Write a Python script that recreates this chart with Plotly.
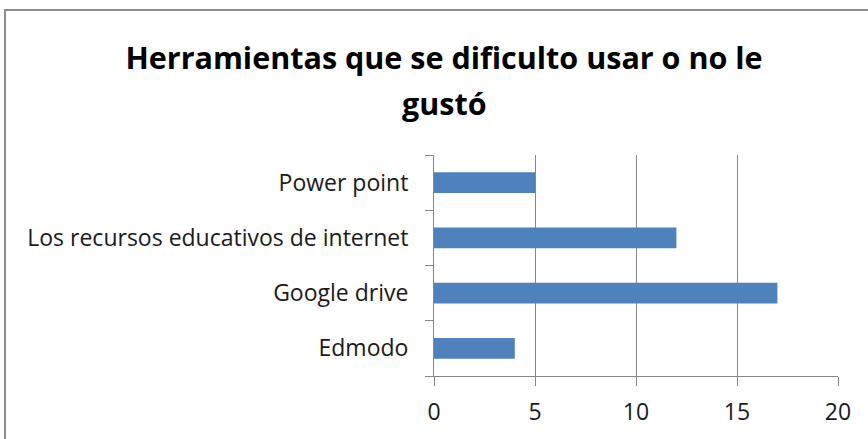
import plotly.graph_objects as go

categories = ["Edmodo", "Google drive", "Los recursos educativos de internet", "Power point"]
values = [4, 17, 12, 5]
x_ticks = [0, 5, 10, 15, 20]
title_line1 = "Herramientas que se dificulto usar o no le"
title_line2 = "gustó"

W, H = 868, 439
ml, mr, mt, mb = 434, 30, 155, 63
pw, ph = W - ml - mr, H - mt - mb

fig = go.Figure(go.Bar(
    y=categories, x=values, orientation="h",
    marker=dict(color="#4F81BD", line=dict(width=0)),
))

grid = "#868686"
fig.update_layout(
    width=W, height=H,
    margin=dict(l=ml, r=mr, t=mt, b=mb),
    paper_bgcolor="white", plot_bgcolor="white",
    bargap=0.62,
    showlegend=False,
    font=dict(family="Open Sans", color="#1a1a1a"),
    title=dict(
        text="<b>" + title_line1 + "</b>",
        x=444 / W, xanchor="center", y=1 - 58 / H, yanchor="middle",
        font=dict(family="Open Sans", size=30.5, color="black"),
    ),
    annotations=[dict(
        text="<b>" + title_line2 + "</b>", showarrow=False,
        xref="paper", yref="paper",
        x=(444 - ml) / pw, xanchor="center",
        y=(H - mb - 103) / ph, yanchor="middle",
        font=dict(family="Open Sans", size=30.5, color="black"),
    )],
    xaxis=dict(
        range=[0, 20], tickvals=x_ticks, ticktext=[str(v) for v in x_ticks],
        showgrid=True, gridcolor=grid, gridwidth=1,
        showline=True, linecolor=grid, linewidth=1,
        ticks="outside", ticklen=9, tickcolor=grid,
        ticklabelstandoff=6,
        tickfont=dict(size=23, color="#1a1a1a"),
        zeroline=False, fixedrange=True,
    ),
    yaxis=dict(
        categoryorder="array", categoryarray=categories,
        showline=True, linecolor=grid, linewidth=1,
        ticks="outside", ticklen=8, tickcolor=grid, tickson="boundaries",
        ticklabelstandoff=20,
        tickfont=dict(size=23, color="#1a1a1a"),
        showgrid=False, fixedrange=True,
    ),
    shapes=[dict(
        type="rect", xref="paper", yref="paper",
        x0=(5 - ml) / pw, x1=(W + 10 - ml) / pw,
        y0=(H - mb - (H + 10)) / ph, y1=(H - mb - 10) / ph,
        line=dict(color="#8c8c8c", width=2), fillcolor="rgba(0,0,0,0)",
        layer="below",
    )],
)

fig.write_html(
    "out.html",
    config={"displayModeBar": False},
    post_script="document.body.style.margin='0';document.body.style.overflow='hidden';",
)
